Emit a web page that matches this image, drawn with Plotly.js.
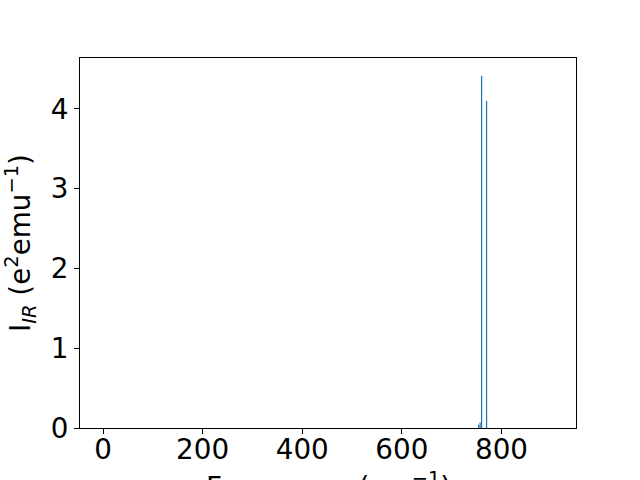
<!DOCTYPE html>
<html>
<head>
<meta charset="utf-8">
<script src="https://cdn.plot.ly/plotly-3.0.1.min.js"></script>
<style>html,body{margin:0;padding:0;background:#fff;}#chart{width:640px;height:480px;}</style>
</head>
<body>
<div id="chart"></div>
<script>
// Frequencies (cm^-1) and IR intensities (e^2 emu^-1)
const frequencies = [0, 754, 757, 760, 770, 904];
const intensities = [0, 0.04, 0.07, 4.417, 4.10, 0];
const xTickVals = [0, 200, 400, 600, 800];
const yTickVals = [0, 1, 2, 3, 4];
const xTitle = 'Frequency (cm<sup>−1</sup>)';
const yTitle = 'I<sub><i>IR</i></sub> (e<sup>2</sup>emu<sup>−1</sup>)';

const fontFam = "DejaVu Sans, sans-serif";
const fs = 27.8;

Plotly.newPlot('chart', [{
  type: 'bar',
  x: frequencies,
  y: intensities,
  width: 2.5,
  marker: {color: '#1f77b4', line: {width: 0}},
  hoverinfo: 'skip'
}], {
  width: 640, height: 480,
  margin: {l: 80, r: 64, t: 58, b: 52, pad: 0},
  paper_bgcolor: '#fff', plot_bgcolor: '#fff',
  showlegend: false,
  font: {family: fontFam, size: fs, color: '#000'},
  xaxis: {
    range: [-46.2, 949.5],
    tickvals: xTickVals,
    ticks: 'outside', ticklen: 5, tickwidth: 1, tickcolor: '#000',
    showline: true, linecolor: '#000', linewidth: 1, mirror: true,
    showgrid: false, zeroline: false,
    tickfont: {family: fontFam, size: fs},
    ticklabelstandoff: -8,
    automargin: false
  },
  yaxis: {
    range: [0, 4.638],
    tickvals: yTickVals,
    ticks: 'outside', ticklen: 5, tickwidth: 1, tickcolor: '#000',
    showline: true, linecolor: '#000', linewidth: 1, mirror: true,
    showgrid: false, zeroline: false,
    tickfont: {family: fontFam, size: fs},
    automargin: false,
    title: {text: yTitle, font: {family: fontFam, size: fs}}
  },
  annotations: [{
    text: xTitle, showarrow: false,
    xref: 'paper', yref: 'paper', x: 0.5, y: -0.101,
    xanchor: 'center', yanchor: 'top',
    font: {family: fontFam, size: fs, color: '#000'}
  }]
}, {staticPlot: true});
</script>
</body>
</html>
